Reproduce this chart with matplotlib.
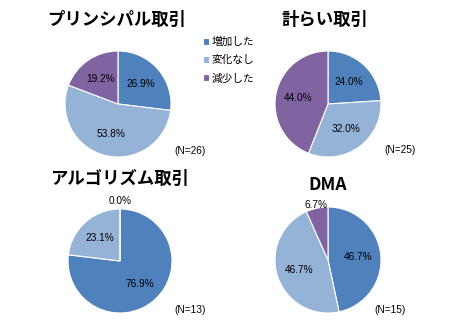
import matplotlib
matplotlib.use('Agg')
from matplotlib import pyplot as plt

plt.rcParams['font.family'] = ['Noto Sans CJK JP', 'DejaVu Sans']

# data
categories = ['増加した', '変化なし', '減少した']
titles = ['プリンシパル取引', '計らい取引', 'アルゴリズム取引', 'DMA']
principal = [26.9, 53.8, 19.2]
hakarai = [24.0, 32.0, 44.0]
algo = [76.9, 23.1, 0.0]
dma = [46.7, 46.7, 6.7]
n_labels = ['(N=26)', '(N=25)', '(N=13)', '(N=15)']

colors = ['#4F81BD', '#95B3D7', '#8064A2']
H = 329

fig = plt.figure(figsize=(4.5, 3.29), dpi=100)
ax = fig.add_axes([0, 0, 1, 1])
ax.set_xlim(0, 450)
ax.set_ylim(0, H)
ax.set_aspect('equal')
ax.axis('off')

# (cx, cy, r, title x, title y, N x, N y) in pixels, y from top
layout = [
    (118, 104, 53, 117, 20, 190, 151),
    (328, 104, 53, 325, 20, 400, 150),
    (120, 261, 52, 120, 179, 190, 310),
    (328, 260, 53, 328, 185, 390, 310),
]
series = [principal, hakarai, algo, dma]

for k, vals in enumerate(series):
    cx, cy, r, tx, ty, nx, ny = layout[k]
    wedges, texts, autotexts = ax.pie(
        vals, colors=colors, startangle=90, counterclock=False,
        center=(cx, H - cy), radius=r, autopct='%.1f%%', pctdistance=0.58,
        wedgeprops=dict(edgecolor='white', linewidth=0.8),
        textprops=dict(fontsize=7.3, family='Liberation Sans'))
    for i, t in enumerate(autotexts):
        t.set_text('%.1f%%' % vals[i])
        if vals[i] < 10:
            # small slices labelled outside
            x0, y0 = t.get_position()
            dx, dy = x0 - cx, y0 - (H - cy)
            d = (dx ** 2 + dy ** 2) ** 0.5
            if d == 0:
                dx, dy, d = 0, 1, 1
            f = (1.15 if vals[i] == 0 else 1.06) * r / d
            t.set_position((cx + dx * f, (H - cy) + dy * f))
    ax.text(tx, H - ty, titles[k], ha='center', va='center', fontsize=12.5,
            fontweight='bold', family=['Noto Sans CJK JP', 'DejaVu Sans'])
    ax.text(nx, H - ny, n_labels[k], ha='center', va='center', fontsize=7.3,
            family='Liberation Sans')
    if k == 0:
        leg = ax.legend(wedges, categories, loc='upper left',
                        bbox_to_anchor=(193 / 450, 1 - 27 / H), frameon=False,
                        fontsize=7.7, handlelength=0.6, handleheight=0.6,
                        handletextpad=0.25, labelspacing=0.75)

ax.set_xlim(0, 450)
ax.set_ylim(0, H)
fig.savefig('out.png', dpi=100)
